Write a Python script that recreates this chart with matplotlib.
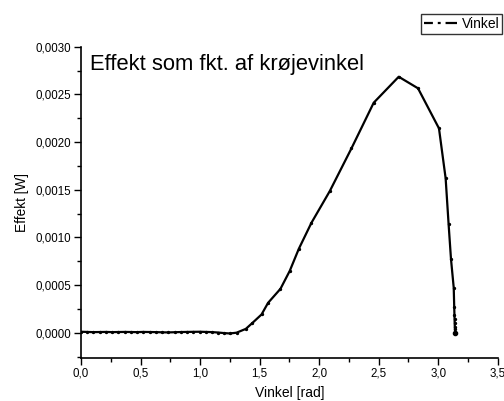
import matplotlib
matplotlib.use('Agg')
import matplotlib.pyplot as plt
from matplotlib.lines import Line2D
from matplotlib.ticker import MultipleLocator, FuncFormatter

plt.rcParams['font.family'] = ['Liberation Sans', 'DejaVu Sans']

# vinkel [rad] og effekt [W]
vinkel = [0.00, 0.05, 0.10, 0.16, 0.21, 0.26, 0.31, 0.37, 0.42, 0.47, 0.52, 0.58,
          0.63, 0.68, 0.73, 0.79, 0.84, 0.89, 0.94, 1.00, 1.05, 1.10, 1.15, 1.20,
          1.25, 1.306, 1.384, 1.440, 1.516, 1.571, 1.675, 1.753, 1.829, 1.935,
          2.089, 2.271, 2.458, 2.668, 2.830, 3.006, 3.062, 3.087, 3.107, 3.130,
          3.134, 3.136, 3.137, 3.138, 3.139, 3.140, 3.1416]
effekt = [0.000012, 0.000010, 0.000008, 0.000009, 0.000010, 0.000008, 0.000009,
          0.000010, 0.000009, 0.000008, 0.000010, 0.000009, 0.000008, 0.000006,
          0.000005, 0.000007, 0.000009, 0.000010, 0.000011, 0.000012, 0.000010,
          0.000008, 0.000004, -0.000002, -0.000006, 0.000002, 0.000042, 0.000105,
          0.000193, 0.000315, 0.000462, 0.000650, 0.000881, 0.001154, 0.001486,
          0.001934, 0.002413, 0.002685, 0.002564, 0.002144, 0.001620, 0.001137,
          0.000773, 0.000472, 0.000273, 0.000186, 0.000141, 0.000099, 0.000063,
          0.000036, 0.0]

fig = plt.figure(figsize=(5.04, 4.01), dpi=100)
ax = fig.add_axes([0.1607, 0.108, 0.827, 0.7755])

ax.plot(vinkel, effekt, color='black', lw=1.6, marker='o', ms=1.4)
ax.plot(vinkel[-1], effekt[-1], color='black', marker='o', ms=3)

ax.set_xlim(0, 3.5)
ax.set_ylim(-0.00026, 0.003)
ax.xaxis.set_major_locator(MultipleLocator(0.5))
ax.xaxis.set_minor_locator(MultipleLocator(0.25))
ax.yaxis.set_major_locator(MultipleLocator(0.0005))
ax.yaxis.set_minor_locator(MultipleLocator(0.00025))
ax.xaxis.set_major_formatter(FuncFormatter(lambda v, p: f'{v:.1f}'.replace('.', ',')))
ax.yaxis.set_major_formatter(FuncFormatter(lambda v, p: f'{v:.4f}'.replace('.', ',')))
ax.tick_params(which='major', direction='out', length=5, width=1, labelsize=8.3, pad=2)
ax.tick_params(which='minor', direction='out', length=3, width=1)

for s in ['top', 'right']:
    ax.spines[s].set_visible(False)
for s in ['left', 'bottom']:
    ax.spines[s].set_linewidth(1.2)

ax.set_xlabel('Vinkel [rad]', fontsize=10, labelpad=5)
ax.set_ylabel('Effekt [W]', fontsize=9.8, labelpad=5)

ax.text(0.022, 0.975, 'Effekt som fkt. af krøjevinkel', transform=ax.transAxes,
        fontsize=15.8, va='top', ha='left')

# linje med symbol i midten: streg - prik - streg
handle = Line2D([], [], color='black', lw=1.6, dashes=(4, 2.2, 1.3, 2.2, 4.5, 0))
fig.legend([handle], ['Vinkel'], loc='upper right', bbox_to_anchor=(0.996, 0.965),
           fontsize=10, frameon=True, fancybox=False, edgecolor='black',
           handlelength=2.4, handletextpad=0.3, borderpad=0.2, borderaxespad=0)

fig.savefig('out.png', dpi=100)
